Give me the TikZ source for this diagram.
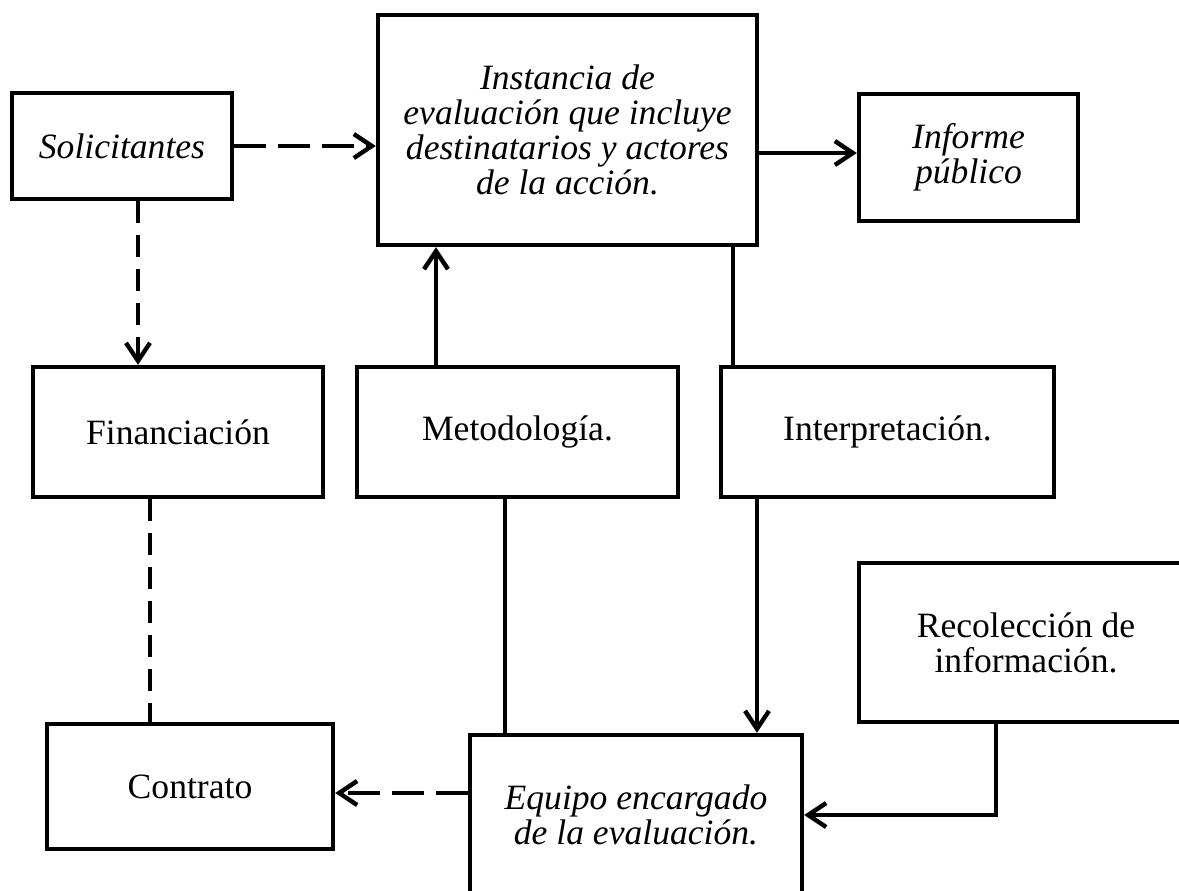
\documentclass[tikz,border=0pt]{standalone}
\usepackage{fontspec}
\setmainfont{Liberation Serif}
\usetikzlibrary{arrows.meta}
\begin{document}
\begin{tikzpicture}[x=0.5pt,y=-0.5pt,
  bx/.style 2 args={draw, line width=2.2pt, rectangle, inner sep=0pt, align=center,
    minimum width=#1*0.5pt, minimum height=#2*0.5pt,
    font=\fontsize{17.8}{17.6}\selectfont},
  it/.style={font=\fontsize{17.8}{17.6}\selectfont\itshape},
  conn/.style={line width=2.2pt},
  tip/.style={-{Straight Barb[length=9pt,width=12pt]}},
  dshh/.style={dash pattern=on 16pt off 6pt},
  dshv/.style={dash pattern=on 11pt off 6pt}]
\useasboundingbox (0,0) rectangle (1179,890);
\clip (0,0) rectangle (1179,890);
\fill[white] (0,0) rectangle (1179,890);
% nodes
\node[bx={220}{106}, it] (sol) at (122,146) {Solicitantes};
\node[bx={379}{230}, it] (inst) at (567.5,130) {Instancia de\\evaluación que incluye\\destinatarios y actores\\de la acción.};
\node[bx={219}{127}, it] (inf) at (968.5,157.5) {Informe\\público};
\node[bx={290}{130}] (fin) at (178,432) {Financiación};
\node[bx={321}{130}] (met) at (517.5,432) {Metodología.};
\node[bx={333}{130}] (int) at (887.5,432) {Interpretación.};
\node[bx={334}{159}] (rec) at (1026,642.5) {Recolección de\\información.};
\node[bx={286}{125}] (con) at (190,786.5) {Contrato};
\node[bx={332}{160}, it] (equ) at (636,815) {Equipo encargado\\de la evaluación.};
% helper coordinates
\coordinate (xsf) at (138,0);
\coordinate (xfc) at (150,0);
\coordinate (xmi) at (436,0);
\coordinate (xii) at (733,0);
\coordinate (yii) at (0,153);
\coordinate (xme) at (505,0);
\coordinate (xie) at (757,0);
\coordinate (xre) at (996,0);
\coordinate (yre) at (0,815);
\coordinate (yce) at (0,793);
\coordinate (bend) at (996,815);
% connectors
\draw[conn, dshh, tip] (sol.east) -- (sol.east -| inst.west);
\draw[conn, dshv, tip] (sol.south -| xsf) -- (fin.north -| xsf);
\draw[conn, dshv] (fin.south -| xfc) -- (con.north -| xfc);
\draw[conn, tip] (met.north -| xmi) -- (inst.south -| xmi);
\draw[conn] (inst.south -| xii) -- (int.north -| xii);
\draw[conn, tip] (inst.east |- yii) -- (inf.west |- yii);
\draw[conn] (met.south -| xme) -- (equ.north -| xme);
\draw[conn, tip] (int.south -| xie) -- (equ.north -| xie);
\draw[conn, tip] (rec.south -| xre) -- (bend) -- (equ.east |- yre);
\draw[conn, dshh, tip] (equ.west |- yce) -- (con.east |- yce);
\end{tikzpicture}
\end{document}
